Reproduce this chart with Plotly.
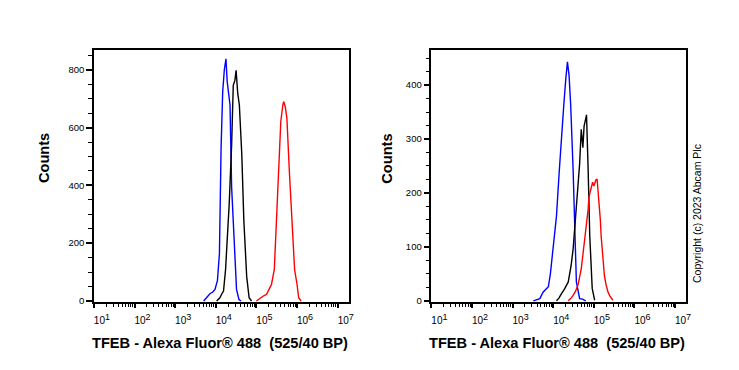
import plotly.graph_objects as go

# ---- data (log10 of fluorescence intensity, counts) ----
left_blue_log = [3.70, 3.80, 3.86, 3.92, 3.98, 4.04, 4.09, 4.13, 4.17, 4.21, 4.23, 4.25, 4.28, 4.31, 4.35, 4.39, 4.43, 4.46, 4.51, 4.57, 4.62]
left_blue_cnt = [0, 18, 26, 30, 40, 70, 165, 530, 724, 800, 835, 838, 760, 724, 678, 393, 260, 165, 40, 5, 0]

left_black_log = [4.02, 4.10, 4.15, 4.19, 4.24, 4.29, 4.33, 4.39, 4.43, 4.47, 4.50, 4.54, 4.58, 4.64, 4.69, 4.76, 4.82, 4.88]
left_black_cnt = [0, 11, 25, 34, 108, 230, 336, 541, 746, 763, 798, 718, 678, 507, 279, 85, 11, 0]

left_red_log = [5.00, 5.05, 5.11, 5.18, 5.25, 5.31, 5.37, 5.44, 5.49, 5.54, 5.60, 5.65, 5.67, 5.71, 5.75, 5.81, 5.87, 5.94, 6.00, 6.04, 6.10]
left_red_cnt = [0, 6, 11, 18, 23, 40, 57, 108, 268, 450, 621, 678, 690, 672, 632, 450, 268, 108, 57, 11, 0]

right_blue_log = [3.51, 3.60, 3.67, 3.75, 3.82, 3.88, 3.93, 4.00, 4.08, 4.15, 4.21, 4.26, 4.31, 4.35, 4.39, 4.43, 4.49, 4.53, 4.57, 4.65, 4.72, 4.80]
right_blue_cnt = [0, 2, 4, 16, 22, 26, 50, 96, 157, 242, 315, 363, 412, 443, 418, 363, 242, 120, 35, 4, 3, 0]

right_black_log = [4.08, 4.14, 4.20, 4.28, 4.37, 4.44, 4.49, 4.57, 4.65, 4.69, 4.73, 4.76, 4.82, 4.86, 4.90, 4.96, 5.02]
right_black_cnt = [0, 5, 13, 22, 35, 65, 96, 181, 254, 318, 284, 324, 345, 242, 120, 23, 1]

right_red_log = [4.37, 4.43, 4.49, 4.55, 4.61, 4.65, 4.69, 4.73, 4.77, 4.80, 4.83, 4.86, 4.88, 4.91, 4.94, 4.97, 5.00, 5.02, 5.05, 5.08, 5.10, 5.13, 5.16, 5.18, 5.22, 5.26, 5.30, 5.35, 5.40, 5.47]
right_red_cnt = [0, 4, 10, 18, 29, 42, 59, 85, 108, 126, 144, 170, 193, 205, 211, 220, 213, 217, 224, 226, 210, 181, 150, 120, 85, 47, 30, 16, 8, 1]

x_tick_exp = [1, 2, 3, 4, 5, 6, 7]
left_y_ticks = [0, 200, 400, 600, 800]
right_y_ticks = [0, 100, 200, 300, 400]

x_title = "TFEB - Alexa Fluor® 488  (525/40 BP)"
y_title = "Counts"
copyright_text = "Copyright (c) 2023 Abcam Plc"

# ---- figure ----
OFF = 8  # page body margin
W, H = 739 - OFF, 370 - OFF
fig = go.Figure()

def px_x(p):
    return (p - OFF) / W

def px_y(p):
    return 1 - (p - OFF) / H

panels = [
    dict(xa="x", ya="y", series=[(left_blue_log, left_blue_cnt, "#0000ff"),
                                 (left_black_log, left_black_cnt, "#000000"),
                                 (left_red_log, left_red_cnt, "#ff0000")]),
    dict(xa="x2", ya="y2", series=[(right_blue_log, right_blue_cnt, "#0000ff"),
                                   (right_black_log, right_black_cnt, "#000000"),
                                   (right_red_log, right_red_cnt, "#ff0000")]),
]

for pnl in panels:
    for lg, cnt, col in pnl["series"]:
        fig.add_trace(go.Scatter(
            x=[10 ** v for v in lg], y=cnt, mode="lines",
            line=dict(color=col, width=1.4),
            xaxis=pnl["xa"], yaxis=pnl["ya"], showlegend=False, hoverinfo="skip"))

minor_x = [m * 10 ** e for e in range(1, 7) for m in range(2, 10)]
tick_font = dict(family="Liberation Sans, Arial, sans-serif", size=9.5, color="black")
xtick_font = dict(family="Liberation Sans, Arial, sans-serif", size=10, color="black")

def xaxis_cfg(dom, anchor):
    return dict(
        type="log", range=[1.0, 7.27], domain=dom, anchor=anchor,
        tickmode="array", tickvals=[10 ** e for e in x_tick_exp],
        ticktext=["10<sup><span style='font-size:9px'>%d</span></sup>" % e for e in x_tick_exp],
        ticks="outside", ticklen=4, tickwidth=2, tickcolor="black",
        minor=dict(tickmode="array", tickvals=minor_x, ticks="outside",
                   ticklen=3, tickwidth=1, tickcolor="black"),
        showline=True, linecolor="black", linewidth=1.5, mirror=True,
        showgrid=False, zeroline=False, tickfont=xtick_font,
        ticklabelshift=8, ticklabelstandoff=4, fixedrange=True)

def yaxis_cfg(dom, anchor, rng, ticks, minor_step):
    return dict(
        range=rng, domain=dom, anchor=anchor,
        tickmode="array", tickvals=ticks, ticktext=[str(t) for t in ticks],
        ticks="outside", ticklen=6, tickwidth=2, tickcolor="black",
        minor=dict(tickmode="linear", tick0=0, dtick=minor_step, ticks="outside",
                   ticklen=4, tickwidth=1, tickcolor="black"),
        showline=True, linecolor="black", linewidth=1.5, mirror=True,
        showgrid=False, zeroline=False, tickfont=tick_font, fixedrange=True)

ydom = [px_y(305.7), px_y(50)]
fig.update_layout(
    width=W, height=H, margin=dict(l=0, r=0, t=0, b=0),
    paper_bgcolor="white", plot_bgcolor="white",
    xaxis=xaxis_cfg([px_x(94.5), px_x(351)], "y"),
    yaxis=yaxis_cfg(ydom, "x", [-5, 870], left_y_ticks, 50),
    xaxis2=xaxis_cfg([px_x(434.3), px_x(690.7)], "y2"),
    yaxis2=yaxis_cfg(ydom, "x2", [-3, 466], right_y_ticks, 25),
)

title_font = dict(family="Liberation Sans, Arial, sans-serif", size=14.6, color="black")
anns = []
for cx in (221, 561):
    anns.append(dict(text="<b>%s</b>" % x_title, x=px_x(cx), y=px_y(347), xref="paper", yref="paper",
                     showarrow=False, xanchor="center", yanchor="middle", font=title_font))
for cx in (45, 390):
    anns.append(dict(text="<b>%s</b>" % y_title, x=px_x(cx), y=px_y(160), xref="paper", yref="paper",
                     showarrow=False, xanchor="center", yanchor="middle", textangle=-90,
                     font=dict(family="Liberation Sans, Arial, sans-serif", size=14.6, color="black")))
anns.append(dict(text=copyright_text, x=px_x(701), y=px_y(216), xref="paper", yref="paper",
                 showarrow=False, xanchor="center", yanchor="middle", textangle=-90,
                 font=dict(family="Liberation Sans, Arial, sans-serif", size=10.5, color="black")))
fig.update_layout(annotations=anns)

fig.write_html("out.html", config=dict(displayModeBar=False))
